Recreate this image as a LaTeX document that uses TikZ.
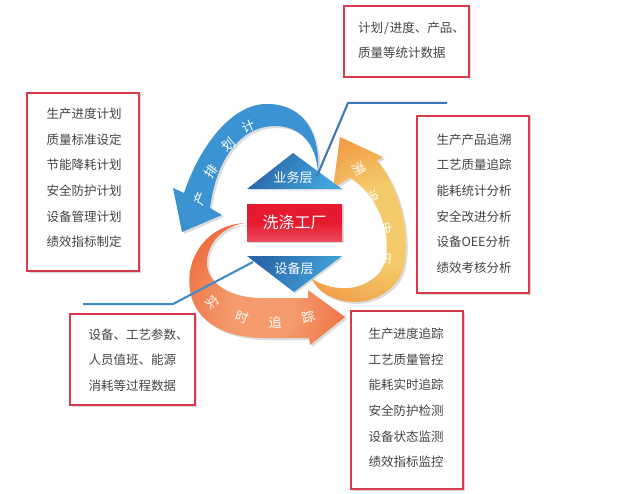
\documentclass[tikz,border=0pt]{standalone}
\usepackage{fontspec}
\setmainfont{Noto Sans CJK SC}
\usetikzlibrary{shadows}
\definecolor{boxred}{HTML}{D93A4B}
\definecolor{txtgray}{HTML}{444444}
\definecolor{blueD}{HTML}{2A5FA0}
\definecolor{blueL}{HTML}{3B93D2}
\definecolor{oyel}{HTML}{F4CB6A}
\definecolor{oorg}{HTML}{EF7E30}
\definecolor{rlight}{HTML}{F49A6C}
\definecolor{rdark}{HTML}{EC5A2B}
\definecolor{rectred}{HTML}{E61A2E}
\definecolor{rectlight}{HTML}{EC4A5C}
\definecolor{lineblue}{HTML}{3C78B6}
\definecolor{lineblue2}{HTML}{3A8CCB}
\definecolor{triD}{HTML}{2A66A8}
\definecolor{triL}{HTML}{42A6DD}
\pgfdeclareradialshading{blueshade}{\pgfpoint{0bp}{0bp}}{color(0bp)=(blueL); color(20bp)=(blueL); color(45bp)=(blueD); color(50bp)=(blueD)}
\pgfdeclareradialshading{yelshade}{\pgfpoint{0bp}{0bp}}{color(0bp)=(oyel); color(10bp)=(oyel); color(32bp)=(oorg); color(50bp)=(oorg)}
\pgfdeclareradialshading{redshade}{\pgfpoint{0bp}{0bp}}{color(0bp)=(rlight); color(8bp)=(rlight); color(30bp)=(rdark); color(50bp)=(rdark)}
\tikzset{
  frame/.style={draw=boxred, line width=1.4pt, fill=white,
    drop shadow={shadow xshift=1.5pt, shadow yshift=-1.5pt, opacity=.25, fill=black!60}},
  boxtext/.style={text=txtgray, align=left, font=\fontsize{12.5}{25.6}\selectfont, inner sep=0pt},
  arrowtxt/.style={text=white, font=\fontsize{13}{13}\selectfont, inner sep=0pt},
  layertxt/.style={text=white, font=\fontsize{13}{13}\selectfont, inner sep=0pt},
  shadowfill/.style={fill=black!45, opacity=.3},
  conn/.style={line width=2pt},
}
\def\bluepath{(318,177) .. controls (322,122) and (295,103) .. (265,104) .. controls (232,105) and (200,145) .. (184,193) -- (173,188) -- (182,232) -- (222,215) -- (210,208) .. controls (216,160) and (240,126) .. (275,126) .. controls (305,126) and (318,150) .. (318,177) -- cycle}
\def\yelpath{(312,279) .. controls (322,303) and (372,315) .. (398,280) .. controls (411,262) and (410,200) .. (377,160.5) -- (383,157) -- (340,137) -- (333,188) -- (350,177.5) .. controls (385,200) and (395,250) .. (380,272) .. controls (360,295) and (330,290) .. (312,279) -- cycle}
\def\redpath{(245,223) .. controls (205,225) and (185,260) .. (190,290) .. controls (195,325) and (230,338) .. (265,338) -- (309,338) -- (310,345) -- (345,317) -- (308,290) -- (308,298) -- (260,298) .. controls (225,297) and (205,280) .. (207,260) .. controls (209,240) and (225,226) .. (245,223) -- cycle}
\begin{document}
\begin{tikzpicture}[x=1pt,y=-1pt]
\useasboundingbox[fill=white] (0,0) rectangle (617,494);

% boxes
\node[frame, minimum width=125pt, minimum height=71pt] (topbox) at (406.5,41.5) {};
\node[boxtext] (toptext) at (411.5,40.5) {计划\kern1pt/\kern1pt进度、产品、\\[-0.6pt]质量等统计数据};
\node[frame, minimum width=112pt, minimum height=178pt] (leftbox) at (83,182) {};
\node[boxtext] (lefttext) at (84,178) {生产进度计划\\质量标准设定\\节能降耗计划\\安全防护计划\\设备管理计划\\绩效指标制定};
\node[frame, minimum width=112pt, minimum height=177pt] (rubox) at (473,204.5) {};
\node[boxtext] (rutext) at (474,203.5) {生产产品追溯\\工艺质量追踪\\能耗统计分析\\安全改进分析\\设备OEE分析\\绩效考核分析};
\node[frame, minimum width=125pt, minimum height=91pt] (llbox) at (132.5,359.5) {};
\node[boxtext] (lltext) at (138.5,360) {设备、工艺参数、\\人员值班、能源\\消耗等过程数据};
\node[frame, minimum width=112pt, minimum height=178pt] (lrbox) at (407,400) {};
\node[boxtext] (lrtext) at (406,398) {生产进度追踪\\工艺质量管控\\能耗实时追踪\\安全防护检测\\设备状态监测\\绩效指标监控};

% arrows with shadows
\fill[shadowfill, shift={(2,2)}] \redpath;
\begin{scope}
  \clip \redpath;
  \shade[shading=redshade] (262,310) circle (100pt);
\end{scope}
\fill[shadowfill, shift={(2,2)}] \yelpath;
\begin{scope}
  \clip \yelpath;
  \shade[shading=yelshade] (385,225) circle (100pt);
\end{scope}
\fill[shadowfill, shift={(2,2)}] \bluepath;
\begin{scope}
  \clip \bluepath;
  \shade[shading=blueshade] (247,167) circle (100pt);
\end{scope}

% bottom connector
\coordinate (l2a) at (253,262);
\coordinate (l2b) at (173,304);
\coordinate (l2c) at (83,304);
\draw[conn, draw=black!40, opacity=.4, shift={(1,1.5)}] (l2a) -- (l2b) -- (l2c);
\draw[conn, draw=lineblue2] (l2a) -- (l2b) -- (l2c);

% layers
\fill[shadowfill, shift={(1.5,1.5)}] (293,153) -- (342,189) -- (247,189) -- cycle;
\shade[left color=triD, right color=triL, shading angle=60] (293,153) -- (342,189) -- (247,189) -- cycle;
\node[layertxt] (biz) at (293,178) {业务层};
\fill[shadowfill, shift={(1.5,1.5)}] (247,256) -- (342,256) -- (294,292) -- cycle;
\shade[left color=triD, right color=triL, shading angle=60] (247,256) -- (342,256) -- (294,292) -- cycle;
\node[layertxt] (dev) at (294,269) {设备层};

% factory
\fill[shadowfill, shift={(1.5,1.5)}] (247,204) rectangle (342,241);
\node[top color=rectred, bottom color=rectlight, middle color=rectred, minimum width=95pt, minimum height=37pt, inner sep=0pt, text=white, font=\fontsize{16}{16}\selectfont] (factory) at (294.5,222.5) {洗涤工厂};

% top connector
\coordinate (l1a) at (317,176);
\coordinate (l1b) at (348,103);
\coordinate (l1c) at (447,103);
\draw[conn, draw=black!40, opacity=.4, shift={(1,1.5)}] (l1a) -- (l1b) -- (l1c);
\draw[conn, draw=lineblue] (l1a) -- (l1b) -- (l1c);

% arrow labels
\node[arrowtxt, rotate=22] (b1) at (249,127) {计};
\node[arrowtxt, rotate=40] (b2) at (228,145) {划};
\node[arrowtxt, rotate=55] (b3) at (211,171) {排};
\node[arrowtxt, rotate=68] (b4) at (200,199) {产};
\node[arrowtxt, rotate=-60] (y1) at (359,169) {溯};
\node[arrowtxt, rotate=-68] (y2) at (373,197) {追};
\node[arrowtxt, rotate=-82] (y3) at (386,228) {史};
\node[arrowtxt, rotate=-98] (y4) at (385,259) {历};
\node[arrowtxt, rotate=-50] (r1) at (213,302) {实};
\node[arrowtxt, rotate=-20] (r2) at (242,317) {时};
\node[arrowtxt, rotate=0] (r3) at (275,322) {追};
\node[arrowtxt, rotate=15] (r4) at (308,317) {踪};
\end{tikzpicture}
\end{document}
